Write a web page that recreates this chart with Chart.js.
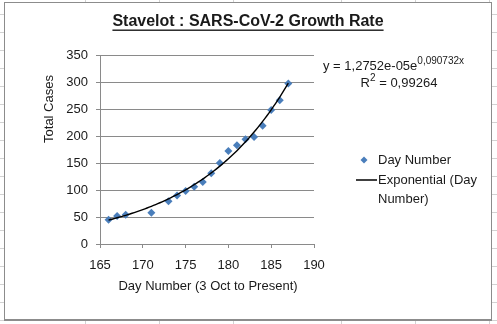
<!DOCTYPE html>
<html><head><meta charset="utf-8">
<script src="https://cdn.jsdelivr.net/npm/chart.js@4.4.1/dist/chart.umd.min.js"></script>
<style>
html,body{margin:0;padding:0;}
body{width:497px;height:324px;position:relative;overflow:hidden;background-color:#fff;
 background-image:repeating-linear-gradient(to bottom,transparent 0,transparent 14px,#d2d2d2 14px,#d2d2d2 15px,transparent 15px,transparent 18px);}
.col{position:absolute;top:0;width:1px;height:324px;background:#d2d2d2;}
#box{position:absolute;left:4px;top:2px;width:486px;height:316px;border:1px solid #8c8c8c;border-bottom-width:2px;background:#fff;}
canvas{display:block;}
</style></head>
<body>
<div id="box"><canvas id="c" width="486" height="316"></canvas></div>
<script>
// ---- data ----
const days   = [166,167,168,171,173,174,175,176,177,178,179,180,181,182,183,184,185,186,187];
const cases  = [45,52,54,58,79,90,98,106,115,131,150,172,183,194,198,219,248,266,297];
const xTicks = [165,170,175,180,185,190];
const yTicks = [0,50,100,150,200,250,300,350];
// trendline coefficients as printed on the chart: y = A * e^(B x)
const trendA = 1.2752e-5;
const trendB = 0.090732;
const trendR2 = '0,99264';

// spreadsheet column lines (page decoration)
[85,159,233,341,415,489].forEach(x=>{const d=document.createElement('div');d.className='col';d.style.left=x+'px';document.body.insertBefore(d,document.body.firstChild);});

const trendPts = [];
for (let x = days[0]; x <= days[days.length-1] + 1e-9; x += 0.25) {
  trendPts.push({x: x, y: trendA * Math.exp(trendB * x)});
}

const FONT = "'Liberation Sans', Arial, sans-serif";
const TXT = '#1a1a1a';
const GRID = '#8a8a8a';
const BLUE = '#4a7ebb';

const deco = {
  id: 'deco',
  afterDraw(chart) {
    const ctx = chart.ctx, ca = chart.chartArea;
    ctx.save();
    ctx.fillStyle = TXT;
    // title
    ctx.font = 'bold 16px ' + FONT;
    ctx.textAlign = 'center'; ctx.textBaseline = 'middle';
    const title = 'Stavelot : SARS-CoV-2 Growth Rate';
    const tx = 243, ty = 19;
    ctx.fillText(title, tx, ty);
    const tw = ctx.measureText(title).width;
    ctx.fillRect(tx - tw/2, ty + 7.5, tw, 1.4);
    // y title
    ctx.font = '13px ' + FONT;
    ctx.save(); ctx.translate(44, 106); ctx.rotate(-Math.PI/2);
    ctx.fillText('Total Cases', 0, 0); ctx.restore();
    // x title
    ctx.fillText('Day Number (3 Oct to Present)', 203, 283);
    // equation
    ctx.textAlign = 'left'; ctx.textBaseline = 'alphabetic';
    const eq1 = 'y = 1,2752e-05e';
    let ex = ca.right + 9, ey = 67;
    ctx.font = '13px ' + FONT;
    ctx.fillText(eq1, ex, ey);
    let w1 = ctx.measureText(eq1).width;
    ctx.font = '10px ' + FONT;
    ctx.fillText('0,090732x', ex + w1, ey - 6);
    // R^2
    const rA = 'R', rB = ' = ' + trendR2;
    ctx.font = '10px ' + FONT; const w2 = ctx.measureText('2').width;
    ctx.font = '13px ' + FONT;
    const wA = ctx.measureText(rA).width, wB = ctx.measureText(rB).width;
    let rx = 394 - (wA + w2 + wB)/2, ry = 84;
    ctx.fillText(rA, rx, ry);
    ctx.font = '10px ' + FONT; ctx.fillText('2', rx + wA, ry - 6);
    ctx.font = '13px ' + FONT; ctx.fillText(rB, rx + wA + w2, ry);
    // legend
    const lx = ca.right + 50;
    ctx.fillStyle = BLUE;
    ctx.beginPath(); ctx.moveTo(lx, 153.5); ctx.lineTo(lx+3.5, 157); ctx.lineTo(lx, 160.5); ctx.lineTo(lx-3.5, 157); ctx.closePath(); ctx.fill();
    ctx.fillStyle = TXT; ctx.textBaseline = 'middle';
    ctx.fillText(chart.data.datasets[0].label, ca.right + 64, 157);
    ctx.strokeStyle = '#000'; ctx.lineWidth = 1.5;
    ctx.beginPath(); ctx.moveTo(ca.right + 42, 177); ctx.lineTo(ca.right + 63, 177); ctx.stroke();
    ctx.fillText('Exponential (Day', ca.right + 64, 177);
    ctx.fillText('Number)', ca.right + 64, 196);
    ctx.restore();
  }
};

new Chart(document.getElementById('c'), {
  type: 'scatter',
  data: {
    datasets: [
      { label: 'Day Number', data: days.map((d,i)=>({x:d, y:cases[i]})),
        pointStyle: 'rectRot', pointRadius: 4, pointBackgroundColor: BLUE, pointBorderColor: BLUE,
        pointBorderWidth: 0, showLine: false, order: 1 },
      { label: 'Exponential (Day Number)', data: trendPts, showLine: true, pointRadius: 0,
        borderColor: '#000', borderWidth: 1.4, tension: 0, order: 0 }
    ]
  },
  options: {
    responsive: false, animation: false, devicePixelRatio: 1,
    layout: { padding: { top: 52, right: 177, bottom: 0, left: 0 } },
    plugins: { legend: { display: false }, tooltip: { enabled: false }, title: { display: false } },
    scales: {
      x: { type: 'linear', min: xTicks[0], max: xTicks[xTicks.length-1],
        afterBuildTicks: s => { s.ticks = xTicks.map(v=>({value:v})); },
        afterFit: s => { s.height = 75; },
        ticks: { font: { family: FONT, size: 13 }, color: TXT, padding: 10, maxRotation: 0 },
        grid: { drawOnChartArea: false, drawTicks: true, tickLength: 4, color: GRID },
        border: { display: true, color: GRID } },
      y: { min: yTicks[0], max: yTicks[yTicks.length-1],
        afterBuildTicks: s => { s.ticks = yTicks.map(v=>({value:v})); },
        afterFit: s => { s.width = 95; },
        ticks: { font: { family: FONT, size: 13 }, color: TXT, padding: 8 },
        grid: { drawOnChartArea: true, drawTicks: true, tickLength: 4, color: GRID },
        border: { display: true, color: GRID } }
    }
  },
  plugins: [deco]
});
</script>
</body></html>
